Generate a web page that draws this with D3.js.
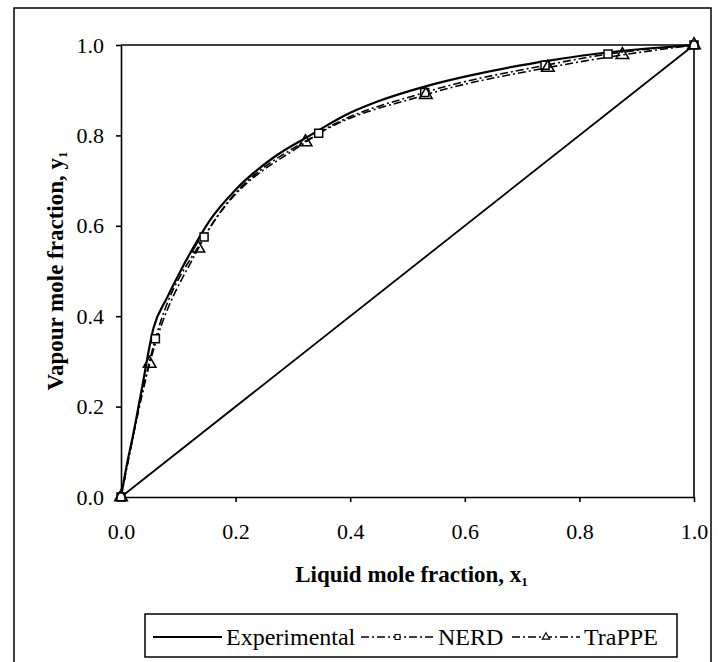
<!DOCTYPE html>
<meta charset='utf-8'>
<title>VLE diagram</title>
<style>
  body { margin: 0; background: #fff; }
  svg { display: block; }
  text { font-family: 'Liberation Serif', 'Times New Roman', serif; fill: #000; }
  .axis text { font-size: 22px; }
  .axis path, .axis line { stroke: #000; stroke-width: 1.6px; }
  .title { font-size: 23px; font-weight: bold; }
  .legend text { font-size: 24px; }
</style>
<body>
<script src='https://cdn.jsdelivr.net/npm/d3@7/dist/d3.min.js'></script>
<script>

  var expX = [0, 0.01, 0.02, 0.035, 0.057, 0.08, 0.105, 0.13, 0.155, 0.2, 0.265, 0.33, 0.4, 0.45, 0.53, 0.6, 0.68, 0.75, 0.82, 0.9, 1]
  var expY = [0, 0.07, 0.13, 0.23, 0.375, 0.44, 0.503, 0.56, 0.612, 0.68, 0.75, 0.8, 0.85, 0.876, 0.908, 0.93, 0.951, 0.966, 0.979, 0.99, 1]

  var nerdX = [0, 0.06, 0.145, 0.345, 0.53, 0.74, 0.85, 1]
  var nerdY = [0, 0.35, 0.575, 0.805, 0.895, 0.955, 0.98, 1]

  var trappeX = [0, 0.05, 0.135, 0.322, 0.532, 0.745, 0.875, 1]
  var trappeY = [0, 0.295, 0.55, 0.785, 0.89, 0.95, 0.978, 1]

  var diagX = [0, 1]
  var diagY = [0, 1]

  var ticks = [0, 0.2, 0.4, 0.6, 0.8, 1.0]
  var seriesNames = ['Experimental', 'NERD', 'TraPPE']

  var width = 718, height = 662
  var pLeft = 121, pRight = 694, pTop = 45, pBottom = 497

  var svg = d3.select('body').append('svg')
    .attr('width', width)
    .attr('height', height)

  // outer frame
  svg.append('rect')
    .attr('x', 14).attr('y', 8)
    .attr('width', 697).attr('height', 660)
    .attr('fill', 'none')
    .attr('stroke', '#000')
    .attr('stroke-width', 1.5)

  var x = d3.scaleLinear().domain([0, 1]).range([pLeft, pRight])
  var y = d3.scaleLinear().domain([0, 1]).range([pBottom, pTop])

  var fmt = d3.format('.1f')

  svg.append('g')
    .attr('class', 'axis')
    .attr('transform', 'translate(0,' + pBottom + ')')
    .call(d3.axisBottom(x).tickValues(ticks).tickFormat(fmt).tickSizeInner(5).tickSizeOuter(0).tickPadding(21))

  svg.append('g')
    .attr('class', 'axis')
    .attr('transform', 'translate(' + pLeft + ',0)')
    .call(d3.axisLeft(y).tickValues(ticks).tickFormat(fmt).tickSizeInner(5).tickSizeOuter(0).tickPadding(12))

  // top and right edges of the plot box
  svg.append('path')
    .attr('d', 'M' + pLeft + ',' + pTop + 'H' + pRight + 'V' + pBottom)
    .attr('fill', 'none')
    .attr('stroke', '#000')
    .attr('stroke-width', 1.6)

  /* ------- LINES -------*/

  function pts(xs, ys) {
    return xs.map(function(v, i) { return [v, ys[i]] })
  }

  var line = d3.line()
    .x(function(d) { return x(d[0]) })
    .y(function(d) { return y(d[1]) })

  var smooth = d3.line()
    .curve(d3.curveMonotoneX)
    .x(function(d) { return x(d[0]) })
    .y(function(d) { return y(d[1]) })

  svg.append('path')
    .attr('d', line(pts(diagX, diagY)))
    .attr('fill', 'none')
    .attr('stroke', '#000')
    .attr('stroke-width', 1.8)

  svg.append('path')
    .attr('d', smooth(pts(nerdX, nerdY)))
    .attr('fill', 'none')
    .attr('stroke', '#000')
    .attr('stroke-width', 1.6)
    .attr('stroke-dasharray', '8,3,2,3')

  svg.append('path')
    .attr('d', smooth(pts(trappeX, trappeY)))
    .attr('fill', 'none')
    .attr('stroke', '#000')
    .attr('stroke-width', 1.6)
    .attr('stroke-dasharray', '8,3,2,3')

  svg.append('path')
    .attr('d', smooth(pts(expX, expY)))
    .attr('fill', 'none')
    .attr('stroke', '#000')
    .attr('stroke-width', 2.2)

  /* ------- MARKERS -------*/

  var square = d3.symbol().type(d3.symbolSquare).size(64)
  var triangle = d3.symbol().type(d3.symbolTriangle).size(70)

  svg.append('g').selectAll('path')
    .data(pts(nerdX, nerdY))
    .enter().append('path')
    .attr('d', square)
    .attr('transform', function(d) { return 'translate(' + x(d[0]) + ',' + y(d[1]) + ')' })
    .attr('fill', '#fff')
    .attr('stroke', '#000')
    .attr('stroke-width', 1.5)

  svg.append('g').selectAll('path')
    .data(pts(trappeX, trappeY))
    .enter().append('path')
    .attr('d', triangle)
    .attr('transform', function(d) { return 'translate(' + x(d[0]) + ',' + y(d[1]) + ')' })
    .attr('fill', 'none')
    .attr('stroke', '#000')
    .attr('stroke-width', 1.5)

  /* ------- AXIS TITLES -------*/

  var xt = svg.append('text')
    .attr('class', 'title')
    .attr('x', (pLeft + pRight) / 2 + 4)
    .attr('y', 582)
    .attr('text-anchor', 'middle')
  xt.append('tspan').text('Liquid mole fraction, x')
  xt.append('tspan').attr('font-size', '13px').attr('dy', 4).text('1')

  var yt = svg.append('text')
    .attr('class', 'title')
    .attr('transform', 'translate(63,' + (pTop + pBottom) / 2 + ') rotate(-90)')
    .attr('text-anchor', 'middle')
  yt.append('tspan').text('Vapour mole fraction, y')
  yt.append('tspan').attr('font-size', '13px').attr('dy', 4).text('1')

  /* ------- LEGEND -------*/

  var legend = svg.append('g').attr('class', 'legend')

  legend.append('rect')
    .attr('x', 145).attr('y', 614)
    .attr('width', 532).attr('height', 43)
    .attr('fill', '#fff')
    .attr('stroke', '#000')
    .attr('stroke-width', 1.5)

  var ly = 637
  var items = [
    { name: seriesNames[0], x0: 153, x1: 222, tx: 226, dash: null, sym: null },
    { name: seriesNames[1], x0: 361, x1: 434, tx: 438, dash: '8,3,2,3', sym: d3.symbol().type(d3.symbolSquare).size(24) },
    { name: seriesNames[2], x0: 512, x1: 580, tx: 584, dash: '8,3,2,3', sym: d3.symbol().type(d3.symbolTriangle).size(24) }
  ]

  items.forEach(function(it) {
    legend.append('line')
      .attr('x1', it.x0).attr('x2', it.x1)
      .attr('y1', ly).attr('y2', ly)
      .attr('stroke', '#000')
      .attr('stroke-width', it.dash ? 1.5 : 2)
      .attr('stroke-dasharray', it.dash)
    if (it.sym) {
      legend.append('path')
        .attr('d', it.sym)
        .attr('transform', 'translate(' + (it.x0 + it.x1) / 2 + ',' + ly + ')')
        .attr('fill', '#fff')
        .attr('stroke', '#000')
        .attr('stroke-width', 1.1)
    }
    legend.append('text')
      .attr('x', it.tx)
      .attr('y', 645)
      .text(it.name)
  })

</script>
</body>
